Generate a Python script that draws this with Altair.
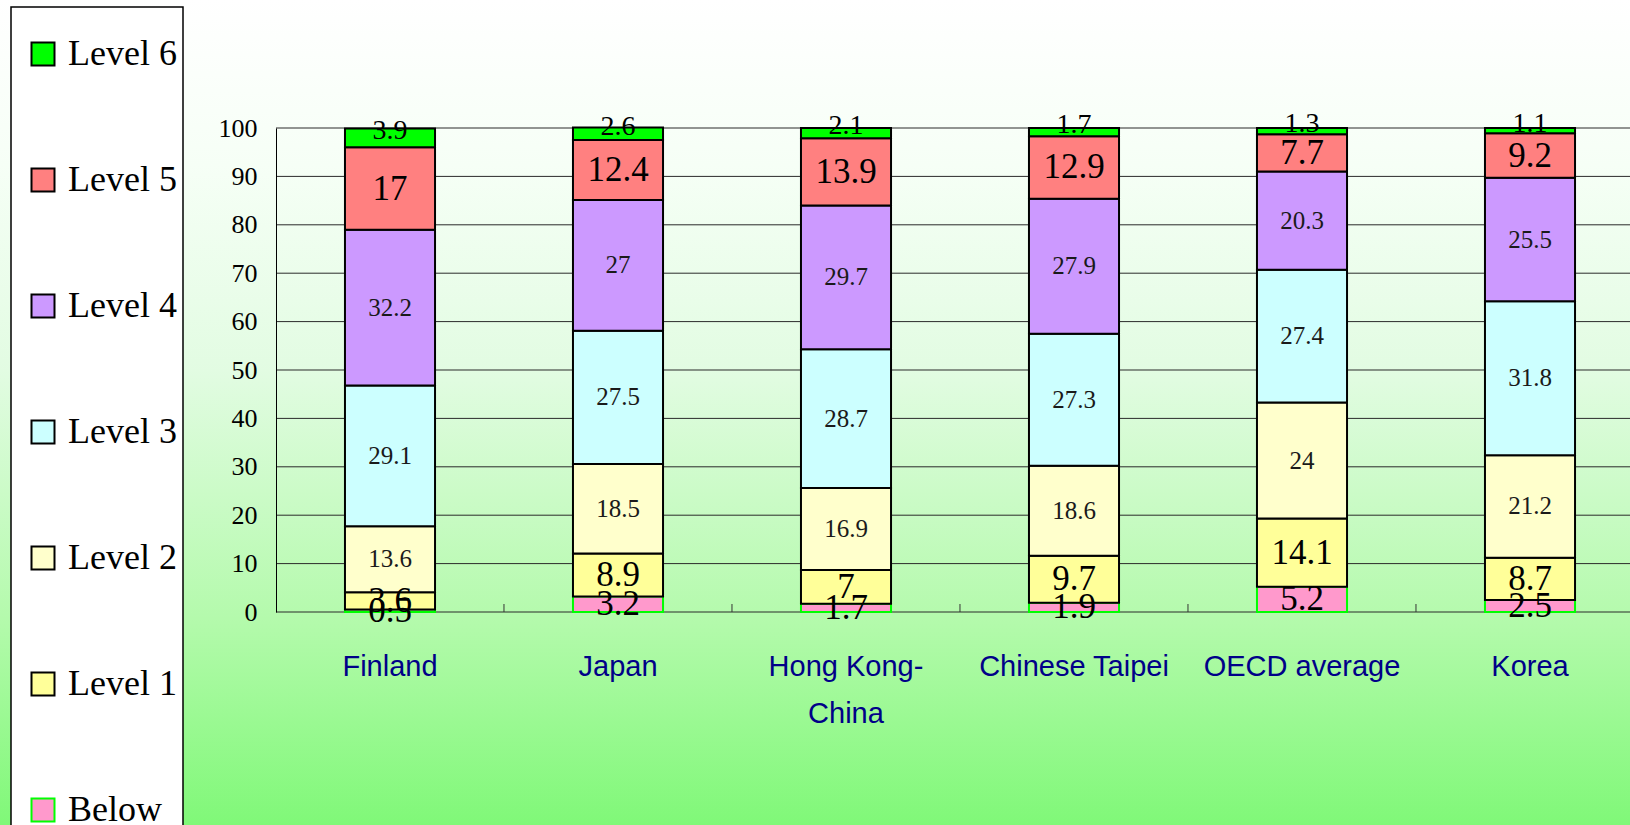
import altair as alt
import pandas as pd

countries = ["Finland", "Japan", "Hong Kong-China", "Chinese Taipei", "OECD average", "Korea"]
levels = ["Below", "Level 1", "Level 2", "Level 3", "Level 4", "Level 5", "Level 6"]
below = [0.5, 3.2, 1.7, 1.9, 5.2, 2.5]
level1 = [3.6, 8.9, 7, 9.7, 14.1, 8.7]
level2 = [13.6, 18.5, 16.9, 18.6, 24, 21.2]
level3 = [29.1, 27.5, 28.7, 27.3, 27.4, 31.8]
level4 = [32.2, 27, 29.7, 27.9, 20.3, 25.5]
level5 = [17, 12.4, 13.9, 12.9, 7.7, 9.2]
level6 = [3.9, 2.6, 2.1, 1.7, 1.3, 1.1]
y_ticks = list(range(0, 101, 10))

series = [below, level1, level2, level3, level4, level5, level6]
rows = []
for ci, c in enumerate(countries):
    cum = 0.0
    for li, lv in enumerate(levels):
        v = series[li][ci]
        rows.append({"country": c, "level": lv, "idx": li, "value": v,
                     "mid": cum + v / 2, "label": f"{v:g}"})
        cum += v
df = pd.DataFrame(rows)

legend_order = levels[::-1]
colors = {"Level 6": "#00FF00", "Level 5": "#FF8080", "Level 4": "#CC99FF",
          "Level 3": "#CCFFFF", "Level 2": "#FFFFCC", "Level 1": "#FFFF99", "Below": "#FF99CC"}
strokes = {lv: ("#00FF00" if lv == "Below" else "#000000") for lv in legend_order}

W, H = 1354, 484
xscale = alt.Scale(domain=countries, range=[0, 1368], paddingInner=0.605, paddingOuter=0.3025)
yscale = alt.Scale(domain=[0, 100], nice=False)

one = pd.DataFrame({"a": [0]})
bg = alt.Chart(one).mark_rect(
    fill=alt.Gradient(gradient="linear",
                      stops=[alt.GradientStop(color="#FFFFFF", offset=0),
                             alt.GradientStop(color="#F6FFF6", offset=0.2),
                             alt.GradientStop(color="#E2FCE2", offset=0.45),
                             alt.GradientStop(color="#B4FAAC", offset=0.75),
                             alt.GradientStop(color="#80F878", offset=1)],
                      x1=0, x2=0, y1=0, y2=1)
).encode(x=alt.value(-276), x2=alt.value(W), y=alt.value(-128), y2=alt.value(697))

legbox = alt.Chart(one).mark_rect(fill="white", stroke="black", strokeWidth=1.5).encode(
    x=alt.value(-265), x2=alt.value(-93), y=alt.value(-121), y2=alt.value(720))

grid = alt.Chart(pd.DataFrame({"t": y_ticks})).mark_rule(color="#2a2a2a", strokeWidth=1).encode(
    y=alt.Y("t:Q", scale=yscale), x=alt.value(0), x2=alt.value(W))

leg = alt.Legend(title=None, orient="none", legendX=-251, legendY=-92,
                 symbolType="square", symbolSize=529, symbolStrokeWidth=2,
                 labelFont="Liberation Serif", labelFontSize=36, labelColor="black",
                 labelOffset=7, rowPadding=90, symbolOpacity=1, labelLimit=0)

bars = alt.Chart(df).mark_bar(strokeWidth=2).encode(
    x=alt.X("country:N", scale=xscale, sort=countries,
            axis=alt.Axis(title=None, labelFont="Liberation Sans", labelFontSize=29,
                          labelColor="#000088", labelPadding=40, labelLineHeight=47,
                          labelAngle=0, ticks=False, domain=False, zindex=1, labelLimit=0,
                          labelExpr="datum.value == 'Hong Kong-China' ? ['Hong Kong-', 'China'] : datum.value")),
    y=alt.Y("value:Q", stack="zero", scale=yscale,
            axis=alt.Axis(title=None, values=y_ticks, labelFont="Liberation Serif", labelFontSize=26,
                          labelColor="black", ticks=False, labelPadding=19, grid=False,
                          domainColor="black", domainWidth=1, zindex=1)),
    color=alt.Color("level:N", scale=alt.Scale(domain=legend_order, range=[colors[l] for l in legend_order]),
                    legend=leg),
    stroke=alt.Stroke("level:N", scale=alt.Scale(domain=legend_order, range=[strokes[l] for l in legend_order]),
                      legend=leg),
    order=alt.Order("idx:Q", sort="ascending"),
)

def text_layer(lvls, size, color, dy=0):
    return alt.Chart(df).transform_filter(
        alt.FieldOneOfPredicate(field="level", oneOf=lvls)
    ).mark_text(font="Liberation Serif", fontSize=size, color=color, baseline="middle", dy=dy).encode(
        x=alt.X("country:N", scale=xscale, sort=countries),
        y=alt.Y("mid:Q", scale=yscale),
        text="label:N",
    )

t_big = text_layer(["Below", "Level 1", "Level 5"], 35, "black")
t_small = text_layer(["Level 2", "Level 3", "Level 4"], 25, "#1a1a1a")
t_top = text_layer(["Level 6"], 28, "black", dy=-7)

ticks = alt.Chart(pd.DataFrame({"country": countries[1:]})).mark_rule(
    color="#333333", strokeWidth=1, xOffset=-69).encode(
    x=alt.X("country:N", scale=xscale, sort=countries, bandPosition=0),
    y=alt.value(H - 8), y2=alt.value(H))

chart = alt.layer(bg, legbox, grid, bars, t_small, t_big, t_top, ticks).properties(
    width=W, height=H,
    autosize=alt.AutoSizeParams(type="none"),
    padding={"left": 276, "top": 128, "right": 0, "bottom": 213},
    background="white",
).configure_view(strokeOpacity=0)

chart.save("out.html", embed_options={"renderer": "svg", "actions": False})
